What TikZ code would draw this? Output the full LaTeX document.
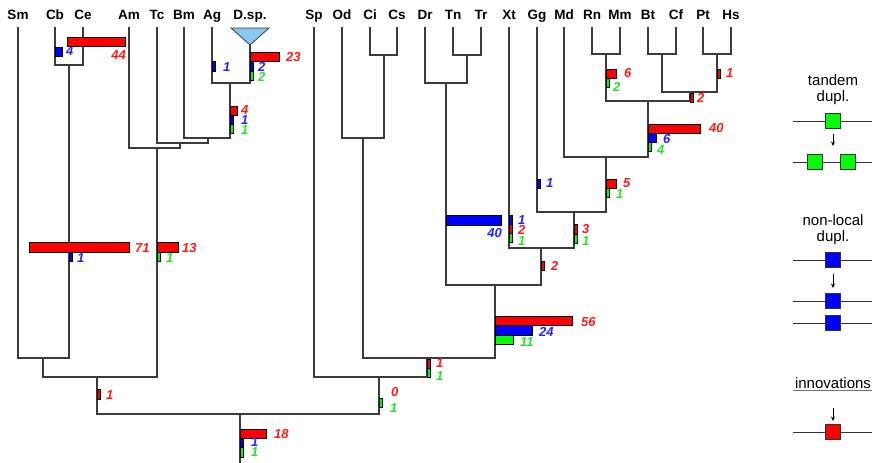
\documentclass[tikz,border=0pt]{standalone}
\usepackage{fontspec}
\setmainfont{Liberation Sans}
\usetikzlibrary{arrows.meta,shadows}

\definecolor{mkred}{RGB}{255,0,0}
\definecolor{mkblue}{RGB}{0,0,255}
\definecolor{mkgreen}{RGB}{0,255,0}
\definecolor{txred}{RGB}{255,25,25}
\definecolor{txblue}{RGB}{35,35,255}
\definecolor{txgreen}{RGB}{40,225,40}
\definecolor{branch}{RGB}{60,60,60}
\definecolor{tri}{RGB}{135,200,240}

\tikzset{
  branchline/.style={draw=branch, line width=1.5pt, line cap=rect},
  taxon/.style={font=\fontsize{13.5}{16}\selectfont\bfseries, anchor=base, inner sep=0pt},
  cnt/.style={font=\fontsize{13}{14}\selectfont\bfseries\itshape, anchor=west, inner sep=0pt},
  cntR/.style={cnt, text=txred},
  cntB/.style={cnt, text=txblue},
  cntG/.style={cnt, text=txgreen},
  bar/.style={draw=black, line width=0.8pt, anchor=north west, inner sep=0pt,
    minimum height=9pt,
    drop shadow={shadow xshift=1pt, shadow yshift=-1pt, fill=black!30, opacity=1}},
  barR/.style={bar, fill=mkred},
  barB/.style={bar, fill=mkblue},
  barG/.style={bar, fill=mkgreen},
  legline/.style={draw=black!80, line width=0.9pt},
  legbox/.style={draw=black!80, line width=0.8pt, minimum width=15pt, minimum height=15pt, inner sep=0pt},
  legarrow/.style={draw=black, line width=0.8pt, -{Stealth[length=4.5pt,width=4pt]}},
  legtext/.style={font=\fontsize{15}{16}\selectfont, align=center, inner sep=0pt},
}

\begin{document}
\begin{tikzpicture}[x=1pt,y=-1pt]
\useasboundingbox (0,0) rectangle (873,463);

% ---------- taxon labels ----------
\foreach \n/\x/\t in {Sm/18/Sm, Cb/55/Cb, Ce/83/Ce, Am/129/Am, Tc/157/Tc, Bm/184/Bm,
  Ag/212/Ag, Dsp/250/D.sp., Sp/314/Sp, Od/342/Od, Ci/370/Ci, Cs/397/Cs, Dr/425/Dr,
  Tn/453/Tn, Tr/481/Tr, Xt/509/Xt, Gg/537/Gg, Md/564/Md, Rn/592/Rn, Mm/620/Mm,
  Bt/648/Bt, Cf/676/Cf, Pt/703/Pt, Hs/731/Hs}
  \node[taxon] (lbl\n) at (\x,19.5) {\t};

% ---------- leaf tips ----------
\foreach \n/\x in {Sm/18, Cb/55, Ce/83, Am/129, Tc/157, Bm/184, Ag/212, Sp/314,
  Od/342, Ci/370, Cs/397, Dr/425, Tn/453, Tr/481, Xt/509, Gg/537, Md/564,
  Rn/592, Mm/620, Bt/648, Cf/676, Pt/703, Hs/731}
  \coordinate (\n) at (\x,28);
\coordinate (Dsp) at (250,45);

% collapsed clade
\filldraw[fill=tri, draw=branch, line width=0.8pt] (231,28) -- (269,28) -- (Dsp) -- cycle;

% ---------- internal nodes ----------
\coordinate (CbCe)  at (69,65);
\coordinate (AgD)   at (230,83);
\coordinate (BmAgD) at (208,138);
\coordinate (TcBm)  at (180,143);
\coordinate (AmTc)  at (157,148);
\coordinate (SmCb)  at (43,358);
\coordinate (LeftA) at (97,377);
\coordinate (Root)  at (240,414);
\coordinate (RootEnd) at (240,463);
\coordinate (CiCs)  at (384,55);
\coordinate (OdCi)  at (363,138);
\coordinate (TnTr)  at (467,55);
\coordinate (DrTn)  at (446,83);
\coordinate (RnMm)  at (606,54);
\coordinate (BtCf)  at (662,54);
\coordinate (PtHs)  at (717,54);
\coordinate (BtPt)  at (690,92);
\coordinate (Euth)  at (648,101);
\coordinate (MdE)   at (606,157);
\coordinate (GgM)   at (574,212);
\coordinate (XtG)   at (541,248);
\coordinate (DrX)   at (495,285);
\coordinate (OdDr)  at (427,358);
\coordinate (RightA) at (379,377);

% ---------- branches ----------
\foreach \c/\p in {Cb/CbCe, Ce/CbCe, Sm/SmCb, CbCe/SmCb, Ag/AgD, Dsp/AgD,
  Bm/BmAgD, AgD/BmAgD, Tc/TcBm, BmAgD/TcBm, Am/AmTc, TcBm/AmTc, SmCb/LeftA,
  AmTc/LeftA, LeftA/Root, RightA/Root, Ci/CiCs, Cs/CiCs, Od/OdCi, CiCs/OdCi,
  Tn/TnTr, Tr/TnTr, Dr/DrTn, TnTr/DrTn, Rn/RnMm, Mm/RnMm, Bt/BtCf, Cf/BtCf,
  Pt/PtHs, Hs/PtHs, BtCf/BtPt, PtHs/BtPt, RnMm/Euth, BtPt/Euth, Md/MdE,
  Euth/MdE, Gg/GgM, MdE/GgM, Xt/XtG, GgM/XtG, DrTn/DrX, XtG/DrX, OdCi/OdDr,
  DrX/OdDr, Sp/RightA, OdDr/RightA}
  \draw[branchline] (\c) |- (\p);
\draw[branchline] (Root) -- (RootEnd);

% ---------- event bars and counts ----------
% Cb / Ce
\node[barB, minimum width=7pt] (bCbB) at (55,47) {};
\node[cntB] (nCbB) at (66,51.5) {4};
\node[barR, minimum width=58pt] (bCeR) at (67,37) {};
\node[cntR, anchor=east] (nCeR) at (126,55) {44};
% Ag / D.sp.
\node[barB, minimum width=3pt, minimum height=10pt] (bAgB) at (212,61) {};
\node[cntB] (nAgB) at (223,67) {1};
\node[barR, minimum width=29pt] (bDsR) at (250,52) {};
\node[cntR] (nDsR) at (286,57) {23};
\node[barB, minimum width=3pt, minimum height=10pt] (bDsB) at (250,61) {};
\node[cntB] (nDsB) at (258,67) {2};
\node[barG, minimum width=3pt] (bDsG) at (250,71) {};
\node[cntG] (nDsG) at (258,77) {2};
% Ag+D.sp. stem
\node[barR, minimum width=7pt] (bAgDR) at (230,106) {};
\node[cntR] (nAgDR) at (241,110.5) {4};
\node[barB, minimum width=3pt] (bAgDB) at (230,115) {};
\node[cntB] (nAgDB) at (241,120) {1};
\node[barG, minimum width=3pt] (bAgDG) at (230,124) {};
\node[cntG] (nAgDG) at (241,130) {1};
% Cb+Ce stem
\node[barR, minimum width=100pt, minimum height=10pt] (bCbCeR) at (29,242) {};
\node[cntR] (nCbCeR) at (135,248) {71};
\node[barB, minimum width=3pt] (bCbCeB) at (69,252) {};
\node[cntB] (nCbCeB) at (77,258) {1};
% Am+Tc.. stem
\node[barR, minimum width=21pt, minimum height=10pt] (bAmR) at (157,242) {};
\node[cntR] (nAmR) at (182,248) {13};
\node[barG, minimum width=3pt] (bAmG) at (157,252) {};
\node[cntG] (nAmG) at (166,258) {1};
% left stem
\node[barR, minimum width=3pt, minimum height=10pt] (bLeftR) at (97,389) {};
\node[cntR] (nLeftR) at (106,395) {1};
% root
\node[barR, minimum width=26pt] (bRootR) at (240,429) {};
\node[cntR] (nRootR) at (274,434) {18};
\node[barB, minimum width=3pt] (bRootB) at (240,438) {};
\node[cntB] (nRootB) at (251,442.5) {1};
\node[barG, minimum width=3pt, minimum height=10pt] (bRootG) at (240,447) {};
\node[cntG] (nRootG) at (251,452.5) {1};
% right stem
\node[cntR] (nRightR) at (391,392) {0};
\node[barG, minimum width=3pt] (bRightG) at (379,398) {};
\node[cntG] (nRightG) at (390,408) {1};
% Od+Dr stem
\node[barR, minimum width=3pt] (bOdDrR) at (427,359) {};
\node[cntR] (nOdDrR) at (436,363.5) {1};
\node[barG, minimum width=3pt] (bOdDrG) at (427,368) {};
\node[cntG] (nOdDrG) at (436,376) {1};
% Dr..Hs stem
\node[barR, minimum width=77pt] (bDrXR) at (495,316) {};
\node[cntR] (nDrXR) at (581,322) {56};
\node[barB, minimum width=37pt, minimum height=10pt] (bDrXB) at (495,325) {};
\node[cntB] (nDrXB) at (539,332) {24};
\node[barG, minimum width=18pt] (bDrXG) at (495,335) {};
\node[cntG] (nDrXG) at (520,342) {11};
% Dr+Tn+Tr stem
\node[barB, minimum width=55pt, minimum height=10pt] (bDrTnB) at (446,215) {};
\node[cntB, anchor=east] (nDrTnB) at (502,233) {40};
% Xt
\node[barB, minimum width=3pt] (bXtB) at (509,215) {};
\node[cntB] (nXtB) at (518,220) {1};
\node[barR, minimum width=3pt] (bXtR) at (509,224) {};
\node[cntR] (nXtR) at (518,230) {2};
\node[barG, minimum width=3pt] (bXtG) at (509,233) {};
\node[cntG] (nXtG) at (518,241) {1};
% Xt.. stem
\node[barR, minimum width=3pt] (bXtGR) at (541,261) {};
\node[cntR] (nXtGR) at (551,266) {2};
% Gg
\node[barB, minimum width=3pt] (bGgB) at (537,179) {};
\node[cntB] (nGgB) at (546,183.5) {1};
% Gg.. stem
\node[barR, minimum width=3pt, minimum height=10pt] (bGgMR) at (574,224) {};
\node[cntR] (nGgMR) at (582,229) {3};
\node[barG, minimum width=3pt] (bGgMG) at (574,234) {};
\node[cntG] (nGgMG) at (582,241) {1};
% Md.. stem
\node[barR, minimum width=10pt] (bMdER) at (606,179) {};
\node[cntR] (nMdER) at (623,183.5) {5};
\node[barG, minimum width=3pt] (bMdEG) at (606,188) {};
\node[cntG] (nMdEG) at (616,194) {1};
% Rn.. Hs stem
\node[barR, minimum width=52pt] (bEuR) at (648,124) {};
\node[cntR] (nEuR) at (709,128.5) {40};
\node[barB, minimum width=8pt] (bEuB) at (648,133) {};
\node[cntB] (nEuB) at (663,139) {6};
\node[barG, minimum width=3pt] (bEuG) at (648,142) {};
\node[cntG] (nEuG) at (657,150) {4};
% Rn+Mm stem
\node[barR, minimum width=10pt] (bRnR) at (606,69) {};
\node[cntR] (nRnR) at (624,73.5) {6};
\node[barG, minimum width=3pt] (bRnG) at (606,78) {};
\node[cntG] (nRnG) at (613,87) {2};
% Pt+Hs stem
\node[barR, minimum width=3pt] (bPtR) at (717,69) {};
\node[cntR] (nPtR) at (726,73.5) {1};
% Bt..Hs stem
\node[barR, minimum width=3pt] (bBtR) at (690,93) {};
\node[cntR] (nBtR) at (697,98) {2};

% ---------- legend ----------
% tandem duplication
\node[legtext] (tdTxt) at (833,90) {tandem\\dupl.};
\coordinate (tdL1) at (793,121); \coordinate (tdR1) at (872,121);
\draw[legline] (tdL1) -- (tdR1);
\node[legbox, fill=mkgreen] (tdBox) at (833,121) {};
\coordinate (tdA1) at (833,134); \coordinate (tdA2) at (833,146);
\draw[legarrow] (tdA1) -- (tdA2);
\coordinate (tdL2) at (793,162); \coordinate (tdR2) at (872,162);
\draw[legline] (tdL2) -- (tdR2);
\node[legbox, fill=mkgreen] (tdBoxA) at (815,162) {};
\node[legbox, fill=mkgreen] (tdBoxB) at (848,162) {};

% non-local duplication
\node[legtext] (nlTxt) at (833,230) {non-local\\dupl.};
\coordinate (nlL1) at (793,260); \coordinate (nlR1) at (872,260);
\draw[legline] (nlL1) -- (nlR1);
\node[legbox, fill=mkblue] (nlBox) at (833,260) {};
\coordinate (nlA1) at (833,274); \coordinate (nlA2) at (833,288);
\draw[legarrow] (nlA1) -- (nlA2);
\coordinate (nlL2) at (793,301); \coordinate (nlR2) at (872,301);
\draw[legline] (nlL2) -- (nlR2);
\node[legbox, fill=mkblue] (nlBoxA) at (833,301) {};
\coordinate (nlL3) at (793,323); \coordinate (nlR3) at (872,323);
\draw[legline] (nlL3) -- (nlR3);
\node[legbox, fill=mkblue] (nlBoxB) at (833,323) {};

% innovations
\node[legtext] (inTxt) at (833,383) {innovations};
\coordinate (inU1) at (793,390.5); \coordinate (inU2) at (872,390.5);
\draw[draw=black!55, line width=0.9pt] (inU1) -- (inU2);
\coordinate (inA1) at (833,408); \coordinate (inA2) at (833,421);
\draw[legarrow] (inA1) -- (inA2);
\coordinate (inL) at (793,432); \coordinate (inR) at (872,432);
\draw[legline] (inL) -- (inR);
\node[legbox, fill=mkred] (inBox) at (833,432) {};
\end{tikzpicture}
\end{document}
